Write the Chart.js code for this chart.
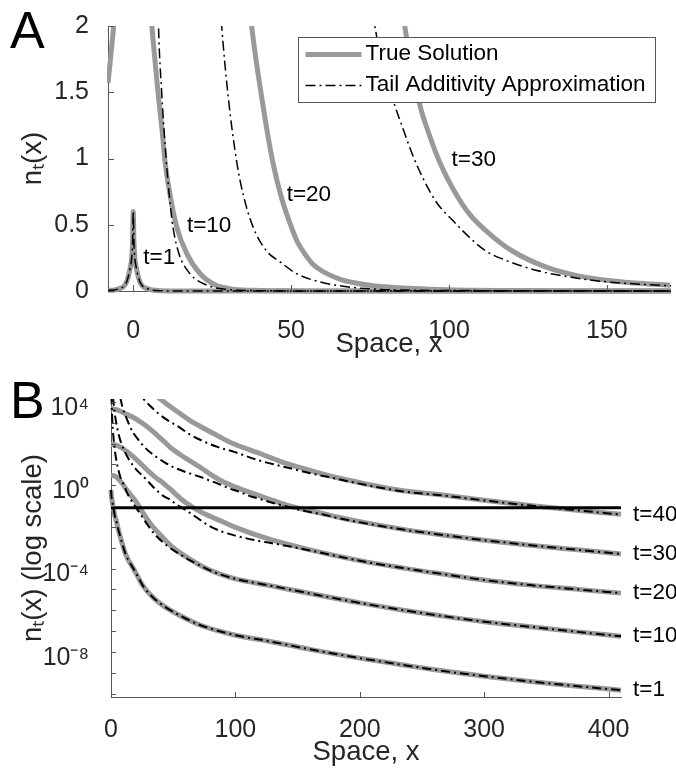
<!DOCTYPE html>
<html>
<head>
<meta charset="utf-8">
<title>True solution vs tail additivity approximation</title>
<script src="https://cdn.jsdelivr.net/npm/chart.js@4.4.1/dist/chart.umd.min.js"></script>
<style>
  html, body { margin: 0; padding: 0; background: #ffffff; }
  #wrap { position: relative; width: 676px; height: 773px; overflow: hidden; background: #ffffff; }
  #wrap canvas { position: absolute; left: 0; }
  #chartA { top: 0; }
  #chartB { top: 370px; }
</style>
</head>
<body>
<div id="wrap">
  <canvas id="chartA" width="676" height="370"></canvas>
  <canvas id="chartB" width="676" height="403"></canvas>
</div>
<script>
// ---------------- data ----------------
// t = 1
const xT1 = [-8, -6, -4, -3, -2, -1, -0.5, -0.2, 0, 0.2, 0.5, 1, 2, 3, 4, 6, 9, 12, 19, 26, 35, 45, 60, 72, 85, 100, 128, 160, 200, 235, 265, 300, 337, 375, 410];
const trueT1 = [0.005, 0.008, 0.022, 0.035, 0.075, 0.17, 0.25, 0.38, 0.6, 0.38, 0.25, 0.17, 0.075, 0.035, 0.022, 0.007, 1.6e-3, 4.5e-4, 7.9e-5, 1.4e-5, 3.5e-6, 1.26e-6, 4.0e-7, 1.9e-7, 1.07e-7, 6.3e-8, 3.16e-8, 1.32e-8, 5.0e-9, 2.34e-9, 1.26e-9, 6.8e-10, 3.8e-10, 2.24e-10, 1.45e-10];
const approxT1 = [0.005, 0.008, 0.022, 0.035, 0.075, 0.17, 0.25, 0.38, 0.6, 0.38, 0.25, 0.17, 0.075, 0.035, 0.022, 0.007, 1.6e-3, 4.5e-4, 7.9e-5, 1.4e-5, 3.5e-6, 1.26e-6, 4.0e-7, 1.9e-7, 1.07e-7, 6.3e-8, 3.16e-8, 1.32e-8, 5.0e-9, 2.34e-9, 1.26e-9, 6.8e-10, 3.8e-10, 2.24e-10, 1.45e-10];

// t = 10
const xT10 = [-8, -7, -6, -4, -2, 0, 2, 4, 5, 5.9, 7, 8, 9.1, 10.1, 11.7, 13.8, 17, 21.2, 26, 31, 38, 45, 50, 55, 64, 75, 85, 100, 128, 160, 200, 235, 265, 300, 337, 375, 410];
const trueT10 = [1.57, 1.8, 2.05, 2.5, 2.85, 3.0, 2.9, 2.55, 2.3, 2.0, 1.71, 1.46, 1.22, 0.97, 0.72, 0.48, 0.28, 0.13, 0.045, 0.016, 5.2e-3, 1.9e-3, 1.0e-3, 6.0e-4, 2.7e-4, 1.12e-4, 6.2e-5, 3.2e-5, 1.51e-5, 6.3e-6, 2.24e-6, 1.0e-6, 5.4e-7, 2.8e-7, 1.6e-7, 9.1e-8, 5.6e-8];
const xA10 = [0.35, 0.6, 1, 1.5, 2, 3, 4, 5, 6, 7, 8, 9, 10.4, 11.5, 12.6, 14.5, 18, 23.3, 29.6, 35, 45, 55, 64, 75, 85, 100, 128, 160, 200, 235, 265, 300, 337, 375, 410];
const approxT10 = [2.2e4, 5.6e3, 1.4e3, 450, 190, 52, 20, 9.5, 5.2, 3.2, 2.0, 1.5, 1.0, 0.7, 0.48, 0.28, 0.13, 0.044, 0.012, 4.5e-3, 1.26e-3, 5.0e-4, 2.4e-4, 1.1e-4, 6.0e-5, 3.2e-5, 1.51e-5, 6.3e-6, 2.24e-6, 1.0e-6, 5.4e-7, 2.8e-7, 1.6e-7, 9.1e-8, 5.6e-8];

// t = 20
const xT20 = [0, 4, 8, 13, 18, 22, 27, 31.4, 35, 37.5, 39.1, 40.7, 42.3, 44.4, 47, 49.5, 52, 54.5, 57, 61, 65.4, 70, 76, 88.6, 100, 128, 160, 200, 235, 265, 300, 337, 375, 410];
const trueT20 = [91, 85, 66, 40, 23, 14, 7.1, 4.0, 2.6, 2.0, 1.71, 1.46, 1.22, 0.95, 0.7, 0.52, 0.37, 0.275, 0.2, 0.135, 0.09, 0.062, 0.04, 0.019, 9.5e-3, 2.5e-3, 7.9e-4, 2.4e-4, 1.05e-4, 5.6e-5, 2.8e-5, 1.6e-5, 1.0e-5, 6.6e-6];
const xA20 = [1.7, 2, 3, 5, 7, 10, 14, 20, 24, 28, 30.1, 32.8, 34.9, 38, 42.3, 46.5, 51.8, 59.1, 67.6, 78.1, 88, 100, 115, 136, 160, 200, 235, 265, 300, 337, 375, 410];
const approxT20 = [1.8e4, 1.0e4, 2.8e3, 560, 178, 56, 19, 6.0, 3.4, 2.0, 1.46, 0.97, 0.72, 0.48, 0.30, 0.22, 0.13, 0.069, 0.032, 0.012, 6.3e-3, 3.8e-3, 2.35e-3, 1.4e-3, 7.4e-4, 2.35e-4, 1.05e-4, 5.6e-5, 2.8e-5, 1.6e-5, 1.0e-5, 6.6e-6];

// t = 30
const xT30 = [0, 5, 11, 18, 27, 31, 38, 43, 49, 60, 72, 80, 86, 88.6, 90.7, 93.9, 97.1, 101.3, 106.5, 112.9, 120.2, 130.8, 141.3, 151.9, 160, 170, 182, 200, 235, 265, 300, 337, 375, 410];
const trueT30 = [4.8e3, 4.2e3, 2.8e3, 1.78e3, 794, 525, 224, 120, 56, 20, 7.1, 3.3, 2.0, 1.66, 1.41, 1.17, 0.97, 0.77, 0.58, 0.43, 0.30, 0.18, 0.112, 0.076, 0.058, 0.044, 0.030, 0.0178, 7.6e-3, 4.2e-3, 2.3e-3, 1.32e-3, 7.9e-4, 5.0e-4];
const xA30 = [7.5, 9, 10.5, 12.6, 15, 18, 22, 26, 31, 36.8, 43, 50.1, 60, 71.6, 76.5, 78.1, 82.3, 85.5, 88.6, 91.8, 96, 101.3, 107.6, 111.8, 117.1, 127.6, 138.2, 148.7, 159.2, 169.8, 182, 200, 235, 265, 300, 337, 375, 410];
const approxT30 = [1.58e4, 6.3e3, 3.2e3, 1.6e3, 708, 324, 151, 78, 40, 22, 12.6, 7.4, 4.3, 2.55, 2.0, 1.79, 1.44, 1.22, 1.02, 0.85, 0.67, 0.53, 0.38, 0.30, 0.24, 0.156, 0.106, 0.072, 0.053, 0.040, 0.027, 0.0166, 7.4e-3, 4.2e-3, 2.3e-3, 1.32e-3, 7.9e-4, 5.0e-4];

// t = 40
const xT40 = [30, 39.4, 47, 55, 63, 71.6, 85, 98, 118.5, 136, 155, 182, 196, 208, 235, 265, 300, 337, 375, 410];
const trueT40 = [4.0e4, 1.41e4, 6.3e3, 2.9e3, 1.35e3, 676, 251, 100, 35.5, 14.1, 6.3, 2.29, 1.51, 1.05, 0.54, 0.35, 0.19, 0.107, 0.063, 0.040];
const xA40 = [20, 26, 32, 38, 46, 55, 63, 72, 85, 99, 118.5, 136, 145, 160, 182, 196, 208, 235, 265, 300, 337, 375, 410];
const approxT40 = [4.5e4, 1.41e4, 6.0e3, 2.8e3, 1.26e3, 603, 282, 148, 71, 40, 15.8, 8.5, 6.3, 3.8, 2.0, 1.32, 0.95, 0.50, 0.33, 0.186, 0.105, 0.062, 0.039];

// horizontal reference line (panel B)
const thresholdX = [0, 410];
const thresholdY = [0.083, 0.083];

// tick labels / text
const ticksAX = [0, 50, 100, 150];
const ticksAY = [0, 0.5, 1, 1.5, 2];
const ticksBX = [0, 100, 200, 300, 400];
const decadesB = [-10, -9, -8, -7, -6, -5, -4, -3, -2, -1, 0, 1, 2, 3, 4];
const labelledDecadesB = [-8, -4, 0, 4];
const legendLabels = ['True Solution', 'Tail Additivity Approximation'];
const timeLabels = ['t=1', 't=10', 't=20', 't=30', 't=40'];

// ---------------- styling ----------------
const FONT = "'Liberation Sans', Arial, Helvetica, sans-serif";
const TXT = '#262626';
const AXC = '#555555';
const GRAY = '#999999';
const DASH_A = [10, 4, 2, 4];
const DASH_B = [9, 4, 2, 4];
const SUP = {'-': '\u207B', '0': '\u2070', '1': '\u00B9', '2': '\u00B2', '3': '\u00B3', '4': '\u2074', '5': '\u2075', '6': '\u2076', '7': '\u2077', '8': '\u2078', '9': '\u2079'};

function toPoints(xs, ys, xMin) {
  const out = [];
  for (let i = 0; i < xs.length; i++) {
    if (xMin === undefined || xs[i] >= xMin) out.push({x: xs[i], y: ys[i]});
  }
  return out;
}

function lineSet(label, xs, ys, kind, panel, xMin, clip) {
  const base = {label, data: toPoints(xs, ys, xMin), pointRadius: 0, pointHoverRadius: 0,
    fill: false, cubicInterpolationMode: 'monotone', clip};
  if (kind === 'true') {
    return Object.assign(base, {borderColor: GRAY, borderWidth: 5, order: 3});
  }
  if (kind === 'approx') {
    return Object.assign(base, {borderColor: '#000000', borderWidth: panel === 'A' ? 1.5 : 2,
      borderDash: panel === 'A' ? DASH_A : DASH_B, order: 2});
  }
  return Object.assign(base, {borderColor: '#000000', borderWidth: 3, order: 1,
    cubicInterpolationMode: 'default', tension: 0});
}

function buildSets(panel, xMin, clip) {
  const s = [
    lineSet('True t=1', xT1, trueT1, 'true', panel, xMin, clip),
    lineSet('True t=10', xT10, trueT10, 'true', panel, xMin, clip),
    lineSet('True t=20', xT20, trueT20, 'true', panel, xMin, clip),
    lineSet('True t=30', xT30, trueT30, 'true', panel, xMin, clip),
    lineSet('True t=40', xT40, trueT40, 'true', panel, xMin, clip),
    lineSet('Approx t=1', xT1, approxT1, 'approx', panel, xMin, clip),
    lineSet('Approx t=10', xA10, approxT10, 'approx', panel, xMin, clip),
    lineSet('Approx t=20', xA20, approxT20, 'approx', panel, xMin, clip),
    lineSet('Approx t=30', xA30, approxT30, 'approx', panel, xMin, clip),
    lineSet('Approx t=40', xA40, approxT40, 'approx', panel, xMin, clip)
  ];
  if (panel === 'B') s.push(lineSet('Threshold', thresholdX, thresholdY, 'level', panel, xMin, clip));
  return s;
}

// decorations: inward ticks, panel letter, curve labels, legend
const decor = {
  id: 'decor',
  afterDatasetsDraw(chart, args, o) {
    const ctx = chart.ctx, a = chart.chartArea, xs = chart.scales.x, ys = chart.scales.y;
    ctx.save();
    ctx.setLineDash([]);
    ctx.strokeStyle = AXC;
    ctx.lineWidth = 1;
    ctx.beginPath();
    xs.ticks.forEach(t => {
      const p = Math.round(xs.getPixelForValue(t.value)) + 0.5;
      ctx.moveTo(p, a.bottom); ctx.lineTo(p, a.bottom - o.tickLen);
    });
    ys.ticks.forEach(t => {
      const p = Math.round(ys.getPixelForValue(t.value)) + 0.5;
      ctx.moveTo(a.left, p); ctx.lineTo(a.left + o.tickLen, p);
    });
    ctx.stroke();

    // curve labels
    ctx.font = '22.5px ' + FONT;
    ctx.fillStyle = '#000000';
    ctx.textAlign = 'left';
    ctx.textBaseline = 'middle';
    (o.labels || []).forEach(l => {
      const px = l.x === 'right' ? a.right + 12 : xs.getPixelForValue(l.x);
      ctx.fillText(l.text, px, ys.getPixelForValue(l.y));
    });

    // legend
    if (o.legend) {
      const bw = 357, bh = 65;
      const bx = Math.round(a.right - 15 - bw) + 0.5, by = Math.round(a.top + 11) + 0.5;
      ctx.fillStyle = '#ffffff';
      ctx.fillRect(bx, by, bw, bh);
      ctx.strokeStyle = AXC; ctx.lineWidth = 1;
      ctx.strokeRect(bx, by, bw, bh);
      const y1 = by + 17, y2 = by + 48;
      ctx.strokeStyle = GRAY; ctx.lineWidth = 5;
      ctx.beginPath(); ctx.moveTo(bx + 7, y1); ctx.lineTo(bx + 63, y1); ctx.stroke();
      ctx.strokeStyle = '#000000'; ctx.lineWidth = 1.5; ctx.setLineDash(DASH_A);
      ctx.beginPath(); ctx.moveTo(bx + 7, y2); ctx.lineTo(bx + 63, y2); ctx.stroke();
      ctx.setLineDash([]);
      ctx.fillStyle = '#000000';
      ctx.font = '22.5px ' + FONT;
      ctx.fillText(legendLabels[0], bx + 67, y1 - 1);
      ctx.fillText(legendLabels[1], bx + 67, y2 - 1);
    }

    // panel letter
    ctx.font = '52px ' + FONT;
    ctx.fillStyle = '#000000';
    ctx.textAlign = 'left';
    ctx.textBaseline = 'alphabetic';
    ctx.fillText(o.letter, 10, 48);
    ctx.restore();
  }
};

const tickFont = {family: FONT, size: 25};
const titleFont = {family: FONT, size: 27.5};

// ---------------- panel A ----------------
const clipA = {left: 1, top: 0, right: 1, bottom: 3};
new Chart(document.getElementById('chartA'), {
  type: 'line',
  data: {datasets: buildSets('A', undefined, clipA)},
  plugins: [decor],
  options: {
    responsive: false, animation: false, devicePixelRatio: 1, events: [],
    layout: {padding: {left: 0, right: 6, top: 21, bottom: 0}},
    plugins: {
      legend: {display: false}, tooltip: {enabled: false},
      decor: {
        letter: 'A', tickLen: 6, legend: true,
        labels: [
          {text: timeLabels[0], x: 3.2, y: 0.248},
          {text: timeLabels[1], x: 17.0, y: 0.489},
          {text: timeLabels[2], x: 48.6, y: 0.724},
          {text: timeLabels[3], x: 100.8, y: 0.989}
        ]
      }
    },
    scales: {
      x: {
        type: 'linear', min: -8, max: 170, position: 'bottom',
        grid: {display: false}, border: {display: true, color: AXC, width: 1},
        ticks: {font: tickFont, color: TXT, padding: 17, maxRotation: 0, autoSkip: false},
        afterBuildTicks: s => { s.ticks = ticksAX.map(v => ({value: v})); },
        afterFit: s => { s.height = 79; },
        title: {display: true, text: 'Space, x', font: titleFont, color: TXT, padding: {top: 0, bottom: 9}}
      },
      y: {
        type: 'linear', min: 0, max: 2, position: 'left',
        grid: {display: false}, border: {display: true, color: AXC, width: 1},
        ticks: {font: tickFont, color: TXT, padding: 11, autoSkip: false, callback: v => String(v)},
        afterBuildTicks: s => { s.ticks = ticksAY.map(v => ({value: v})); },
        afterFit: s => { s.width = 108; },
        title: {display: true, text: 'n\u209C(x)', font: titleFont, color: TXT, padding: {top: 17, bottom: 0}}
      }
    }
  }
});

// ---------------- panel B ----------------
const clipB = {left: 3, top: 0, right: 3, bottom: 3};
new Chart(document.getElementById('chartB'), {
  type: 'line',
  data: {datasets: buildSets('B', 0, clipB)},
  plugins: [decor],
  options: {
    responsive: false, animation: false, devicePixelRatio: 1, events: [],
    layout: {padding: {left: 0, right: 55, top: 22, bottom: 0}},
    plugins: {
      legend: {display: false}, tooltip: {enabled: false},
      decor: {
        letter: 'B', tickLen: 5, legend: false,
        labels: [
          {text: timeLabels[4], x: 'right', y: trueT40[trueT40.length - 1]},
          {text: timeLabels[3], x: 'right', y: trueT30[trueT30.length - 1]},
          {text: timeLabels[2], x: 'right', y: trueT20[trueT20.length - 1]},
          {text: timeLabels[1], x: 'right', y: trueT10[trueT10.length - 1]},
          {text: timeLabels[0], x: 'right', y: trueT1[trueT1.length - 1]}
        ]
      }
    },
    scales: {
      x: {
        type: 'linear', min: 0, max: 410, position: 'bottom',
        grid: {display: false}, border: {display: true, color: AXC, width: 1},
        ticks: {font: tickFont, color: TXT, padding: 10, maxRotation: 0, autoSkip: false},
        afterBuildTicks: s => { s.ticks = ticksBX.map(v => ({value: v})); },
        afterFit: s => { s.height = 76; },
        title: {display: true, text: 'Space, x', font: titleFont, color: TXT, padding: {top: 0, bottom: 4}}
      },
      y: {
        type: 'logarithmic', min: 6.8e-11, max: 1.38e4, position: 'left',
        grid: {display: false}, border: {display: true, color: AXC, width: 1},
        ticks: {
          font: tickFont, color: TXT, padding: 14, autoSkip: false, labelOffset: 6,
          callback: v => {
            const e = Math.round(Math.log10(v));
            return labelledDecadesB.includes(e) ? '10' + String(e).split('').map(c => SUP[c]).join('') : '';
          }
        },
        afterBuildTicks: s => { s.ticks = decadesB.map(e => ({value: Math.pow(10, e)})); },
        afterFit: s => { s.width = 111; },
        title: {display: true, text: 'n\u209C(x) (log scale)', font: titleFont, color: TXT, padding: {top: 17, bottom: 0}}
      }
    }
  }
});
</script>
</body>
</html>
